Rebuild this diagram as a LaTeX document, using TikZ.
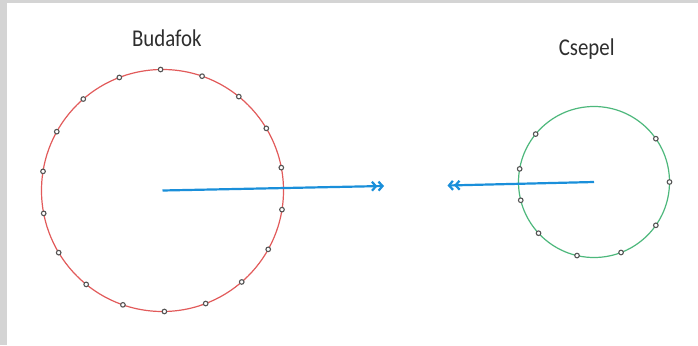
\documentclass[tikz,border=0pt]{standalone}
\usepackage{fontspec}
\setmainfont{Carlito}
\usetikzlibrary{arrows.meta}
\definecolor{frame}{HTML}{D4D4D4}
\definecolor{ringred}{HTML}{E25B5B}
\definecolor{ringgreen}{HTML}{4DB87C}
\definecolor{arrowblue}{HTML}{1A8FDA}
\definecolor{dotgray}{HTML}{555555}
\definecolor{labelgray}{HTML}{2E2E2E}
\tikzset{
  ringlabel/.style={anchor=base, text=labelgray, font=\fontsize{21.5}{26}\selectfont, inner sep=0pt},
  stop/.style={circle, draw=dotgray, fill=white, line width=1.1pt, minimum size=4.6pt, inner sep=0pt},
  hub/.style={inner sep=0pt, minimum size=0pt},
  flow/.style={draw=arrowblue, line width=2.2pt, -{Straight Barb[length=4pt,width=9pt,line width=2.2pt] Straight Barb[length=4pt,width=9pt,line width=2.2pt]}},
}
\begin{document}
\begin{tikzpicture}[x=1pt,y=-1pt]
\useasboundingbox (0,0) rectangle (698,345);
\fill[frame] (0,0) rectangle (698,345);
\fill[white] (7,3) rectangle (698,345);
% labels
\node[ringlabel] (lb) at (166.8,46.7) {\scalebox{0.97}[1.12]{Budafok}};
\node[ringlabel] (lc) at (586.7,55.3) {\scalebox{0.97}[1.12]{Csepel}};
% circles
\node[hub] (bc) at (162.5,190.5) {};
\node[hub] (cc) at (594,182) {};
\draw[ringred, line width=1.2pt] (bc.center) circle[radius=121];
\draw[ringgreen, line width=1.2pt] (cc.center) circle[radius=75.5];
% arrows
\coordinate (bend) at (384,186);
\coordinate (cend) at (447.5,185.5);
\draw[flow] (bc.center) -- (bend);
\draw[flow] (cc.center) -- (cend);
% stops
\foreach \k in {0,...,17}{
  \pgfmathsetmacro\a{10.9+20*\k}
  \node[stop] (b\k) at ({162.5+121*cos(\a)},{190.5-121*sin(\a)}) {};
}
\foreach \a [count=\k] in {0,35,140.6,170,194,222.7,257,291,325}{
  \node[stop] (c\k) at ({594+75.5*cos(\a)},{182-75.5*sin(\a)}) {};
}
\end{tikzpicture}
\end{document}
